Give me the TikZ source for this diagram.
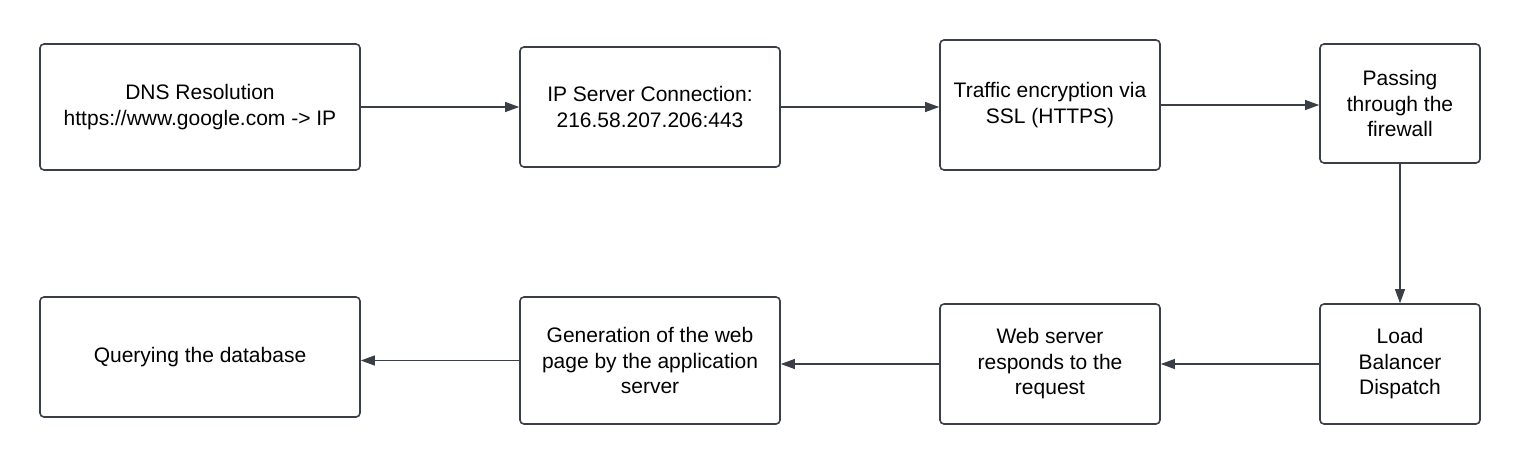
\documentclass[tikz,border=0pt]{standalone}
\usepackage{fontspec}
\setmainfont{Liberation Sans}
\usepackage{xcolor}
\usetikzlibrary{arrows.meta}
\definecolor{edge}{HTML}{3A3F47}

\begin{document}
\begin{tikzpicture}[
  x=1pt, y=-1pt,
  font=\fontsize{21}{25.5}\selectfont,
  blk/.style={draw=edge, line width=1.6pt, rounded corners=4pt, align=center, inner sep=0pt, fill=white},
  flow/.style={-{Triangle[length=14pt,width=10pt]}, draw=edge, fill=edge, line width=1.1pt}
]
  \useasboundingbox (0,0) rectangle (1520,464);
  \node[blk, minimum width=320pt, minimum height=126pt] (dns) at (200,107) {DNS Resolution\\https://www.google.com -> IP};
  \node[blk, minimum width=260pt, minimum height=120pt] (conn) at (650,107) {IP Server Connection:\\216.58.207.206:443};
  \node[blk, minimum width=220pt, minimum height=130pt] (ssl) at (1050,105) {Traffic encryption via\\SSL (HTTPS)};
  \node[blk, minimum width=160pt, minimum height=119pt] (fw) at (1400,103.5) {Passing\\through the\\firewall};
  \node[blk, minimum width=160pt, minimum height=120pt] (lb) at (1400,364) {Load\\Balancer\\Dispatch};
  \node[blk, minimum width=220pt, minimum height=120pt] (web) at (1050,364) {Web server\\responds to the\\request};
  \node[blk, minimum width=260pt, minimum height=127pt] (app) at (650,360.5) {Generation of the web\\page by the application\\server};
  \node[blk, minimum width=320pt, minimum height=120pt] (db) at (200,357) {Querying the database};
  % top row, left to right
  \draw[flow] (dns.east) -- (dns.east -| conn.west);
  \draw[flow] (conn.east) -- (conn.east -| ssl.west);
  \draw[flow] (ssl.east) -- (ssl.east -| fw.west);
  \draw[flow] (fw) -- (lb);
  % bottom row, right to left
  \draw[flow] (lb.west) -- (lb.west -| web.east);
  \draw[flow] (web.west) -- (web.west -| app.east);
  \draw[flow] (app.west) -- (app.west -| db.east);
\end{tikzpicture}
\end{document}
